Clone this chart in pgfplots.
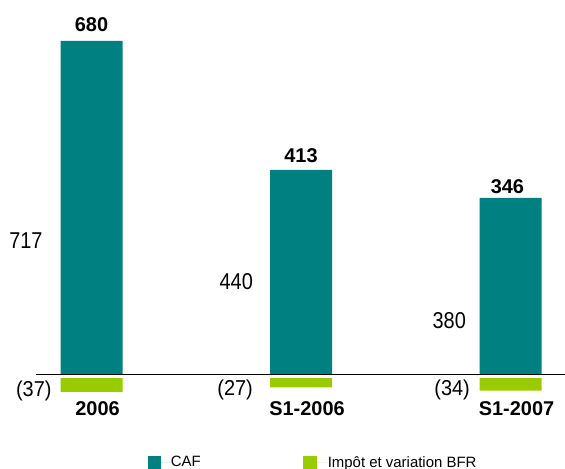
\documentclass[border=0pt]{standalone}
\usepackage{fontspec}
\setmainfont{Liberation Sans}
\usepackage{pgfplots}
\pgfplotsset{compat=1.18}
\definecolor{cafteal}{HTML}{008080}
\definecolor{bfrgreen}{HTML}{99CC00}
\begin{document}
\begin{tikzpicture}
\begin{axis}[
  scale only axis, width=565bp, height=469bp,
  xmin=-0.4368, xmax=2.2601, ymin=-202.6, ymax=805.1,
  axis line style={draw=none},
  ytick=\empty,
  xtick={0,1,2}, xticklabels={2006,S1-2006,S1-2007},
  major tick length=0pt,
  xticklabel style={anchor=base, yshift=54bp, xshift=6bp, inner sep=0pt, font=\fontsize{20}{22}\selectfont\bfseries},
  ybar, bar width=62bp,
  clip=false,
  legend columns=2,
  legend style={at={(rel axis cs:0.2625,0.01386)}, anchor=west, draw=none, fill=none, inner sep=0pt, outer sep=0pt, font=\fontsize{15}{17}\selectfont, nodes={inner sep=0pt}, /tikz/every even column/.append style={column sep=102bp}},
]
\addplot[fill=cafteal, draw=none, bar shift=0pt, legend image code/.code={\fill[cafteal] (0bp,-6.3bp) rectangle (12.7bp,6.3bp); \path (12.7bp,0bp) -- (22.6bp,0bp);}] coordinates {(0,717) (1,440) (2,380)};
\addplot[fill=bfrgreen, draw=none, bar shift=0pt, legend image code/.code={\fill[bfrgreen] (0bp,-6.3bp) rectangle (13.7bp,6.3bp); \path (13.7bp,0bp) -- (25bp,0bp);}] coordinates {(0,-37) (1,-27) (2,-34)};
\legend{CAF, Impôt et variation BFR}
\fill[white] (axis cs:-0.3,0) rectangle (axis cs:2.3,-7.7);
\draw[black, line width=1.3bp] (axis cs:-0.265,0) -- (axis cs:2.2601,0);
\begin{scope}[every node/.style={inner sep=0pt, font=\fontsize{20}{22}\selectfont}]
\node[anchor=base, font=\fontsize{20}{22}\selectfont\bfseries] at (axis cs:0,736.4) {680};
\node[anchor=base, font=\fontsize{20}{22}\selectfont\bfseries] at (axis cs:1,457) {413};
\node[anchor=base, font=\fontsize{20}{22}\selectfont\bfseries] at (axis cs:1.985,389) {346};
\node[anchor=base east] at (axis cs:-0.233,270.1) {\scalebox{1}[1.15]{717}};
\node[anchor=base east] at (axis cs:0.771,182) {\scalebox{1}[1.15]{440}};
\node[anchor=base east] at (axis cs:1.788,98.4) {\scalebox{1}[1.15]{380}};
\node[anchor=base east] at (axis cs:-0.190,-47) {\scalebox{1}[1.08]{(37)}};
\node[anchor=base east] at (axis cs:0.771,-45) {\scalebox{1}[1.08]{(27)}};
\node[anchor=base east] at (axis cs:1.807,-45) {\scalebox{1}[1.08]{(34)}};
\end{scope}
\coordinate (bl) at (rel axis cs:0,0);
\coordinate (tr) at (rel axis cs:1,1);
\end{axis}
\pgfresetboundingbox
\path (bl) rectangle (tr);
\end{tikzpicture}
\end{document}
